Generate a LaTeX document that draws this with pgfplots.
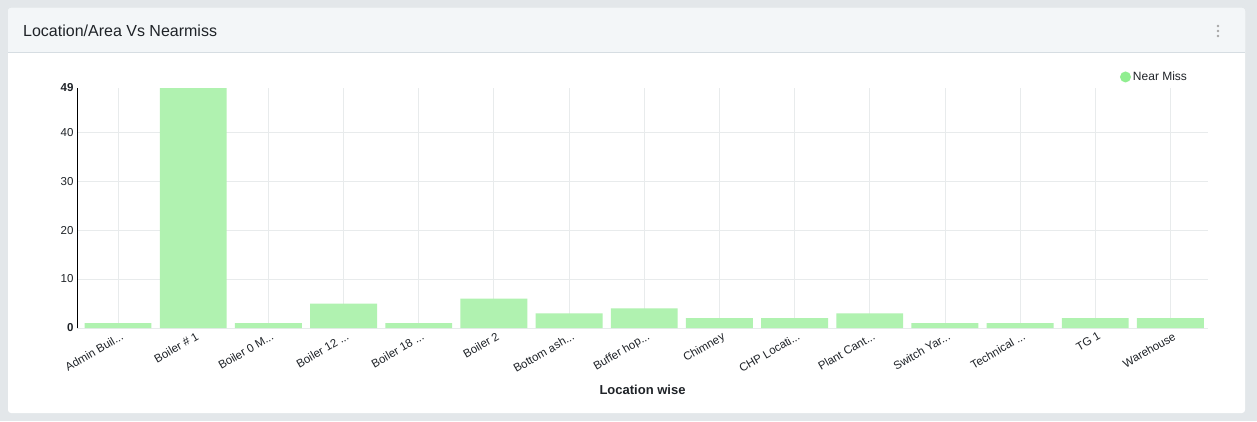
\documentclass[border=0pt]{standalone}
\usepackage{pgfplots}
\pgfplotsset{compat=1.18}
\usepackage{fontspec}
\setmainfont{Liberation Sans}
\definecolor{pagebg}{HTML}{E3E7EA}
\definecolor{headbg}{HTML}{F3F6F8}
\definecolor{headline}{HTML}{D6DDE2}
\definecolor{barc}{HTML}{B0F2B0}
\definecolor{legc}{HTML}{90EE90}
\definecolor{gridc}{HTML}{E8EBEC}
\definecolor{titlec}{HTML}{1F2328}
\newcommand\el{...}
\begin{document}
\begin{tikzpicture}
\path[use as bounding box] (0pt,0pt) rectangle (1257pt,421pt);
\fill[pagebg] (0pt,0pt) rectangle (1257pt,421pt);
\fill[white,rounded corners=3pt] (8pt,8pt) rectangle (1245pt,413pt);
\fill[headbg,rounded corners=3pt] (8pt,368pt) rectangle (1245pt,413pt);
\fill[headbg] (8pt,368pt) rectangle (1245pt,380pt);
\draw[headline,line width=1pt] (8pt,368pt) -- (1245pt,368pt);
\node[anchor=west,inner sep=0pt,font=\fontsize{16}{19}\selectfont,text=titlec] at (23pt,390pt) {Location/Area Vs Nearmiss};
\foreach \yy in {385,390,395} \fill[gray!70] (1218pt,\yy pt) circle (1.3pt);
\begin{axis}[
  at={(77pt,93pt)}, anchor=south west,
  scale only axis, width=1131pt, height=240pt,
  xmin=-0.046, xmax=15, ymin=0, ymax=49,
  axis x line*=bottom, axis y line*=left,
  x axis line style={draw=gridc,line width=1pt,-},
  y axis line style={draw=black,line width=0.8pt,-},
  xtick={0.5,1.5,2.5,3.5,4.5,5.5,6.5,7.5,8.5,9.5,10.5,11.5,12.5,13.5,14.5},
  xticklabels={Admin Buil\el, Boiler \# 1, Boiler 0 M\el, Boiler 12 \el, Boiler 18 \el, Boiler 2, Bottom ash\el, Buffer hop\el, Chimney, CHP Locati\el, Plant Cant\el, Switch Yar\el, Technical \el, TG 1, Warehouse},
  xticklabel style={rotate=30, anchor=north east, font=\fontsize{11.5}{13}\selectfont, text=titlec, inner sep=1pt, yshift=-3pt, xshift=1pt},
  ytick={10,20,30,40},
  extra y ticks={0,49},
  extra y tick labels={\textbf{0},\textbf{49}},
  extra y tick style={grid=none},
  yticklabel style={font=\fontsize{11.5}{13}\selectfont, text=titlec},
  /pgf/number format/assume math mode=true,
  major tick length=0pt,
  xmajorgrids, ymajorgrids,
  grid style={gridc, line width=0.8pt},
  xlabel={\textbf{Location wise}},
  every axis x label/.style={at={(axis description cs:0.5,0)}, yshift=-62pt, anchor=center, font=\fontsize{13}{15}\selectfont, text=titlec},
  legend style={at={(rel axis cs:0.922,1.046)}, anchor=west, draw=none, fill=none, inner sep=0pt, font=\fontsize{12}{14}\selectfont, text=titlec, legend cell align=left},
  legend image code/.code={\fill[legc] (3pt,0pt) circle (5.5pt);},
]
\addplot[ybar, bar width=0.89, fill=barc, draw=none] coordinates {
(0.5,1) (1.5,49) (2.5,1) (3.5,5) (4.5,1) (5.5,6) (6.5,3) (7.5,4) (8.5,2) (9.5,2) (10.5,3) (11.5,1) (12.5,1) (13.5,2) (14.5,2)
};
\addlegendentry{Near Miss}
\end{axis}
\end{tikzpicture}
\end{document}
